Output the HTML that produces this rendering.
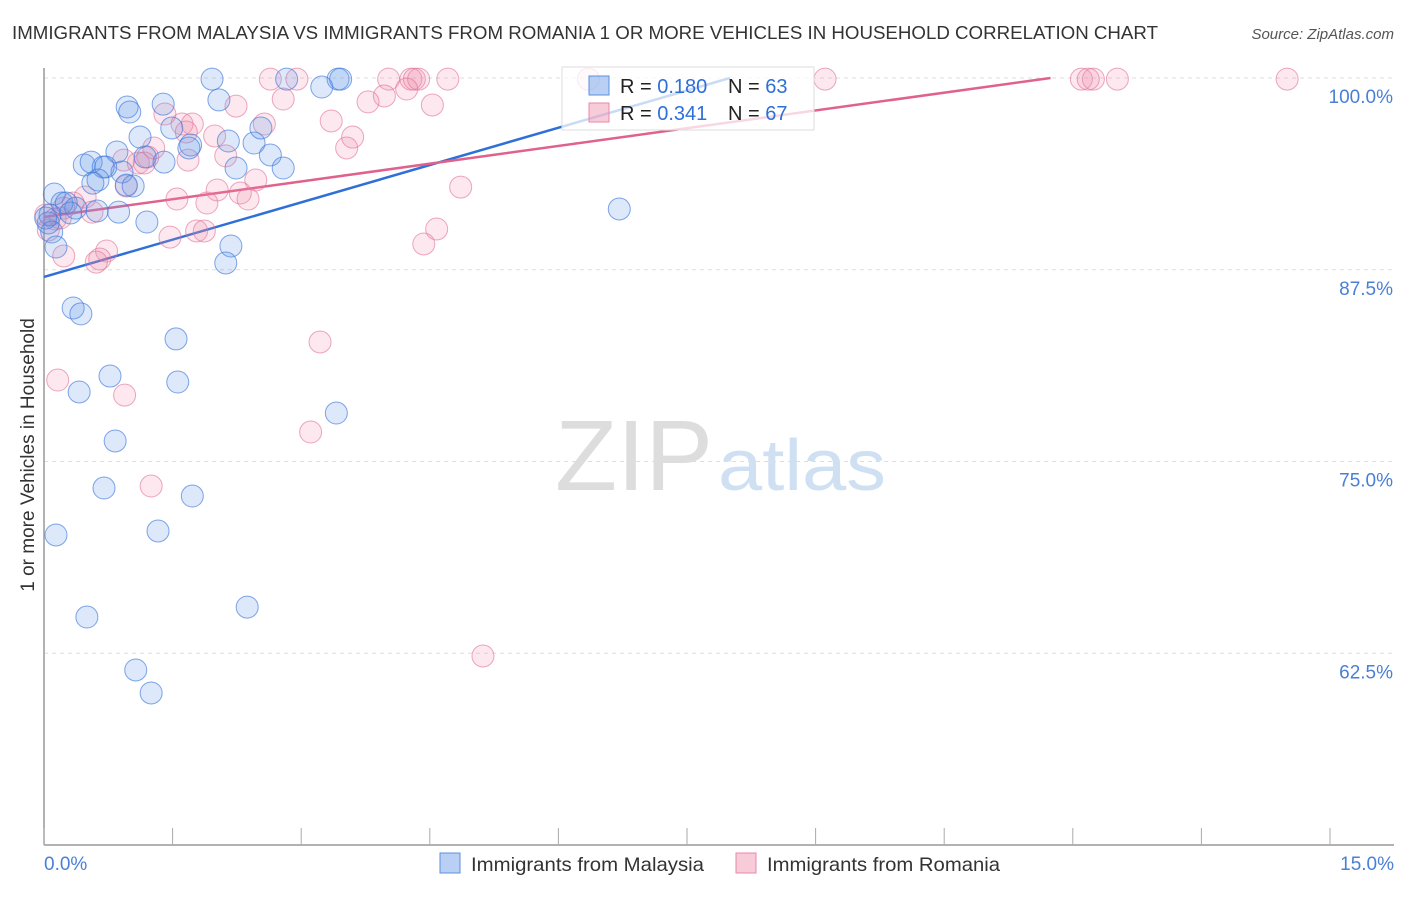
<!DOCTYPE html>
<html><head><meta charset="utf-8"><style>
body{margin:0;background:#fff;font-family:"Liberation Sans",sans-serif;}
svg text{font-family:"Liberation Sans",sans-serif;}
</style></head><body>
<svg id="chart" width="1406" height="892" xmlns="http://www.w3.org/2000/svg">
<text x="12" y="39" font-size="18.6" fill="#333" textLength="1146" lengthAdjust="spacingAndGlyphs">IMMIGRANTS FROM MALAYSIA VS IMMIGRANTS FROM ROMANIA 1 OR MORE VEHICLES IN HOUSEHOLD CORRELATION CHART</text>
<text x="1394" y="39" font-size="15" fill="#555" font-style="italic" text-anchor="end">Source: ZipAtlas.com</text>
<g><text x="555" y="490" font-size="100" fill="#ddd" textLength="158" lengthAdjust="spacingAndGlyphs" font-family="Liberation Serif">ZIP</text><text x="718" y="490" font-size="72" fill="#cfe0f3" textLength="168" lengthAdjust="spacingAndGlyphs">atlas</text></g>
<g id="grid"></g><g id="axes"></g><g id="lines"></g><g id="pts"></g>
<text transform="translate(34,455) rotate(-90)" font-size="19" fill="#333" text-anchor="middle">1 or more Vehicles in Household</text>
<text x="44" y="870" font-size="19" fill="#4a7fd6">0.0%</text>
<text x="1394" y="870" font-size="19" fill="#4a7fd6" text-anchor="end">15.0%</text>
<g>
<rect x="562" y="67" width="252" height="63" fill="rgba(255,255,255,0.75)" stroke="#ddd"/>
<rect x="589" y="76" width="20" height="19" fill="rgba(100,150,230,0.45)" stroke="#5b8fe0"/>
<text x="620" y="93" font-size="20" fill="#222">R = <tspan fill="#2e6fd8">0.180</tspan></text>
<text x="728" y="93" font-size="20" fill="#222">N = <tspan fill="#2e6fd8">63</tspan></text>
<rect x="589" y="103" width="20" height="19" fill="rgba(240,140,170,0.45)" stroke="#e98aa8"/>
<text x="620" y="120" font-size="20" fill="#222">R = <tspan fill="#2e6fd8">0.341</tspan></text>
<text x="728" y="120" font-size="20" fill="#222">N = <tspan fill="#2e6fd8">67</tspan></text>
</g>
<g>
<rect x="440" y="853" width="20" height="20" fill="rgba(100,150,230,0.45)" stroke="#5b8fe0"/>
<text x="471" y="871" font-size="19.5" fill="#333" textLength="233" lengthAdjust="spacingAndGlyphs">Immigrants from Malaysia</text>
<rect x="736" y="853" width="20" height="20" fill="rgba(240,140,170,0.45)" stroke="#e98aa8"/>
<text x="767" y="871" font-size="19.5" fill="#333" textLength="233" lengthAdjust="spacingAndGlyphs">Immigrants from Romania</text>
</g>
</svg>
<script>
const yTicks=[100,87.5,75,62.5];
const yTickLabels=["100.0%","87.5%","75.0%","62.5%"];
const xTicks=[0,1.5,3,4.5,6,7.5,9,10.5,12,13.5,15];
const blueX=[1.96,2.83,3.43,3.46,3.24,2.04,0.97,1.00,1.39,1.12,1.49,2.15,2.45,1.71,1.69,0.85,2.64,1.18,1.40,0.47,0.55,0.69,0.91,0.72,2.79,2.24,0.63,0.57,0.96,1.04,0.12,0.21,0.26,0.37,0.31,0.62,0.87,0.07,0.05,0.09,1.20,0.14,2.18,2.12,0.34,0.43,1.54,0.77,1.56,0.41,3.41,0.83,0.70,1.73,0.14,1.33,2.37,0.50,1.07,1.25,6.71,2.53,0.02];
const blueY=[99.93,99.93,99.93,99.93,99.41,98.57,98.11,97.78,98.30,96.15,96.74,95.89,95.76,95.63,95.44,95.18,94.98,94.85,94.52,94.33,94.52,94.20,93.87,94.20,94.13,94.13,93.35,93.15,93.02,92.96,92.44,91.85,91.85,91.52,91.20,91.33,91.26,91.07,90.55,89.96,90.61,88.98,89.05,87.94,85.01,84.62,82.99,80.57,80.18,79.53,78.16,76.34,73.27,72.75,70.21,70.47,65.51,64.86,61.41,59.91,91.46,96.74,90.87];
const pinkX=[6.35,2.64,2.95,4.02,4.28,4.32,4.37,4.71,9.11,12.10,12.24,12.52,14.50,12.18,4.23,3.97,3.78,2.79,2.24,4.53,1.41,1.61,1.73,1.66,1.99,2.57,3.35,3.60,3.53,1.28,0.93,1.21,1.10,1.68,2.12,2.47,2.02,1.55,1.90,2.29,2.38,4.86,0.48,0.34,0.56,0.23,0.02,0.13,0.19,1.47,1.78,1.87,4.58,4.43,0.73,0.65,0.61,0.23,0.16,0.94,3.22,3.11,1.25,5.12,0.05,0.96,1.17];
const pinkY=[99.93,99.93,99.93,99.93,99.93,99.93,99.93,99.93,99.93,99.93,99.93,99.93,99.93,99.93,99.28,98.83,98.44,98.63,98.17,98.24,97.65,97.00,97.00,96.48,96.22,97.00,97.20,96.15,95.44,95.44,94.65,94.85,94.46,94.65,94.92,93.35,92.70,92.11,91.85,92.50,92.11,92.89,92.24,91.85,91.26,91.52,91.07,90.81,90.87,89.63,90.03,90.03,90.16,89.18,88.72,88.20,88.00,88.40,80.31,79.33,82.79,76.92,73.40,62.32,90.09,92.96,94.46];
const blueLine=[0,87.03,8.0,100];
const pinkLine=[0,90.94,11.74,100];
const NS="http://www.w3.org/2000/svg";
const sx=v=>44+v/15*1286, sy=v=>78+(100-v)/50*767;
function mk(tag,attrs,parent){const e=document.createElementNS(NS,tag);for(const k in attrs)e.setAttribute(k,attrs[k]);parent.appendChild(e);return e;}
const grid=document.getElementById('grid'),axes=document.getElementById('axes'),lines=document.getElementById('lines'),pts=document.getElementById('pts');
yTicks.forEach((t,i)=>{
 const l=mk('line',{x1:44,x2:1394,y1:sy(t),y2:sy(t),stroke:'#ddd','stroke-dasharray':'4,4'},grid);
 
 
 const tx=mk('text',{x:1393,y:sy(t)+25,'font-size':19,fill:'#4a7fd6','text-anchor':'end'},grid);
 tx.textContent=yTickLabels[i];
 
 
});
const ya=mk('line',{x1:44,x2:44,y1:68,y2:845,stroke:'#999','stroke-width':1.5},axes);


const xa=mk('line',{x1:44,x2:1394,y1:845,y2:845,stroke:'#999','stroke-width':1.5},axes);


xTicks.forEach(t=>{
 const k=mk('line',{x1:sx(t),x2:sx(t),y1:828,y2:845,stroke:'#aaa'},axes);
 
 
});
function drawPts(X,Y,fill,stroke,name){
 X.forEach((x,i)=>{
  const c=mk('circle',{cx:sx(x),cy:sy(Y[i]),r:11,fill:fill,stroke:stroke,'stroke-width':1},pts);
  
  
 });
}
drawPts(pinkX,pinkY,'rgba(240,140,170,0.2)','rgba(225,110,150,0.6)','point-romania');
drawPts(blueX,blueY,'rgba(100,150,230,0.22)','rgba(60,120,220,0.65)','point-malaysia');
const bl=mk('line',{x1:sx(blueLine[0]),y1:sy(blueLine[1]),x2:sx(blueLine[2]),y2:sy(blueLine[3]),stroke:'#2e6fd8','stroke-width':2.5},lines);


const pl=mk('line',{x1:sx(pinkLine[0]),y1:sy(pinkLine[1]),x2:sx(pinkLine[2]),y2:sy(pinkLine[3]),stroke:'#e0628c','stroke-width':2.5},lines);


</script>
</body></html>
